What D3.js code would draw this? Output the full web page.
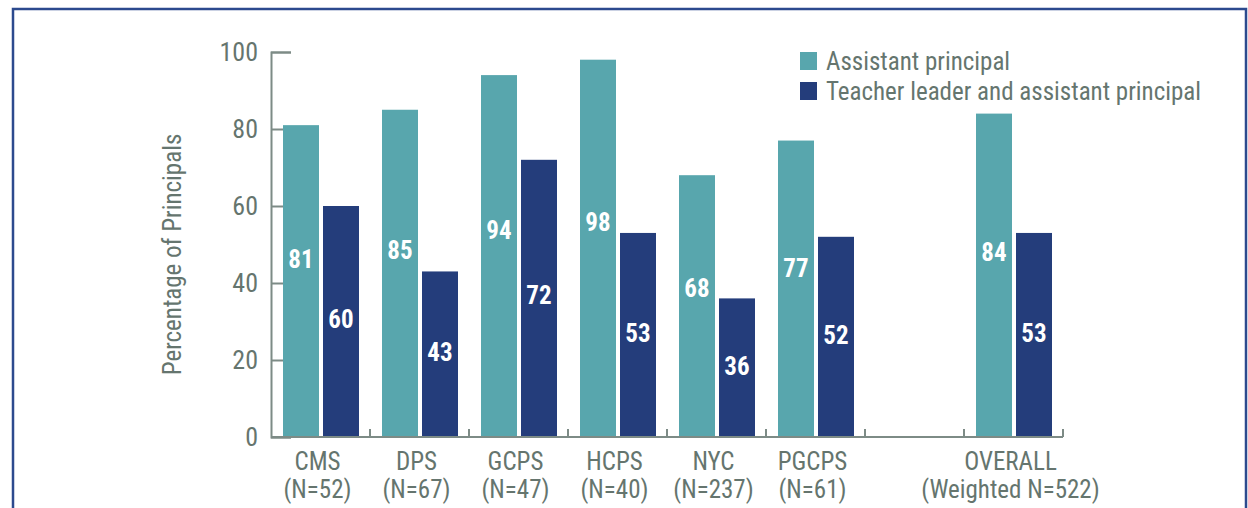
<!DOCTYPE html>
<html>
<head>
<meta charset="utf-8">
<script src="https://cdn.jsdelivr.net/npm/d3@7"></script>
<style>
  body { margin: 0; background: #fff; }
  svg { display: block; }
  text { font-stretch: condensed; }
</style>
</head>
<body>
<svg id="chart" width="1248" height="508"></svg>
<script>
// data
const categories = ['CMS', 'DPS', 'GCPS', 'HCPS', 'NYC', 'PGCPS', '', 'OVERALL']
const sample_sizes = ['(N=52)', '(N=67)', '(N=47)', '(N=40)', '(N=237)', '(N=61)', '', '(Weighted N=522)']
const series = ['Assistant principal', 'Teacher leader and assistant principal']
const assistant = [81, 85, 94, 98, 68, 77, null, 84]
const teacher_leader = [60, 43, 72, 53, 36, 52, null, 53]
const y_ticks = [0, 20, 40, 60, 80, 100]

const colors = ['#58a6ad', '#243d7b']
const text_color = '#65756e'
const axis_color = '#7d8b86'
const font = "'Roboto Condensed', Roboto, sans-serif"
// where the value label sits inside its bar, as a share of the bar height
const label_share = [0.57, 0.51]

const svg = d3.select('#chart')
              .attr('font-family', font)

// frame round the figure (bottom edge is cut off in the original)
svg.append('path')
   .attr('d', 'M13,512 L13,9 L1246,9 L1246,512')
   .attr('fill', 'none')
   .attr('stroke', '#2c4a8e')
   .attr('stroke-width', 2.5)

const x0 = 271, x1 = 1063
const yScale = d3.scaleLinear([0, 100], [437, 52])
const xScale = d3.scaleBand(categories.map((c, i) => i), [x0, x1]).padding(0)
const subScale = d3.scaleBand([0, 1], [12, xScale.bandwidth() - 11]).paddingInner(0.1)

// y axis, ticks pointing into the plot
const yAxis = d3.axisLeft(yScale).tickValues(y_ticks).tickSize(-20).tickPadding(13)
const gy = svg.append('g')
   .attr('transform', `translate(${x0},0)`)
   .call(yAxis)
gy.select('.domain').attr('stroke', axis_color).attr('stroke-width', 2)
gy.selectAll('line').attr('stroke', axis_color).attr('stroke-width', 2)
gy.selectAll('text')
  .attr('fill', text_color)
  .attr('font-size', 26)
  .attr('font-family', font)

svg.append('text')
   .attr('transform', `translate(181,${(yScale(0) + yScale(100)) / 2 + 10}) rotate(-90)`)
   .attr('text-anchor', 'middle')
   .attr('fill', text_color)
   .attr('font-size', 25)
   .text('Percentage of Principals')

// bars
const rows = categories.map((c, i) => i).filter(i => assistant[i] !== null)
const values = [assistant, teacher_leader]
values.forEach((vals, s) => {
    svg.append('g')
       .selectAll('rect')
       .data(rows)
       .join('rect')
         .attr('x', i => xScale(i) + subScale(s))
         .attr('width', subScale.bandwidth())
         .attr('y', i => yScale(vals[i]))
         .attr('height', i => yScale(0) - yScale(vals[i]))
         .attr('fill', colors[s])
    svg.append('g')
       .selectAll('text')
       .data(rows)
       .join('text')
         .attr('x', i => xScale(i) + subScale(s) + subScale.bandwidth() / 2)
         .attr('y', i => yScale(vals[i] * label_share[s]))
         .attr('dy', '0.35em')
         .attr('text-anchor', 'middle')
         .attr('fill', '#fff')
         .attr('font-weight', 'bold')
         .attr('font-size', 25)
         .text(i => vals[i])
})

// x axis: baseline with small upward ticks between groups
const gx = svg.append('g')
gx.append('line')
  .attr('x1', x0).attr('x2', x1)
  .attr('y1', yScale(0)).attr('y2', yScale(0))
  .attr('stroke', axis_color).attr('stroke-width', 2)
const bounds = categories.map((c, i) => xScale(i) + xScale.bandwidth()).filter(v => v > x0)
gx.selectAll('line.tick')
  .data(bounds)
  .join('line')
    .attr('class', 'tick')
    .attr('x1', d => d).attr('x2', d => d)
    .attr('y1', yScale(0)).attr('y2', yScale(0) - 8)
    .attr('stroke', axis_color).attr('stroke-width', 2)

const labels = gx.selectAll('text')
  .data(categories.map((c, i) => i).filter(i => categories[i] !== ''))
  .join('text')
    .attr('text-anchor', 'middle')
    .attr('fill', text_color)
    .attr('font-size', 25)
labels.append('tspan')
    .attr('x', i => xScale(i) + xScale.bandwidth() / 2 - 3)
    .attr('y', 470)
    .text(i => categories[i])
labels.append('tspan')
    .attr('x', i => xScale(i) + xScale.bandwidth() / 2 - 3)
    .attr('y', 498)
    .text(i => sample_sizes[i])

// legend
const legend = svg.append('g')
   .attr('transform', 'translate(800,52)')
   .selectAll('g')
   .data(series)
   .join('g')
     .attr('transform', (d, i) => `translate(0,${i * 30})`)
legend.append('rect')
   .attr('width', 17).attr('height', 18)
   .attr('fill', (d, i) => colors[i])
legend.append('text')
   .attr('x', 26).attr('y', 9)
   .attr('dy', '0.35em')
   .attr('fill', text_color)
   .attr('font-size', 25)
   .text(d => d)
</script>
</body>
</html>
